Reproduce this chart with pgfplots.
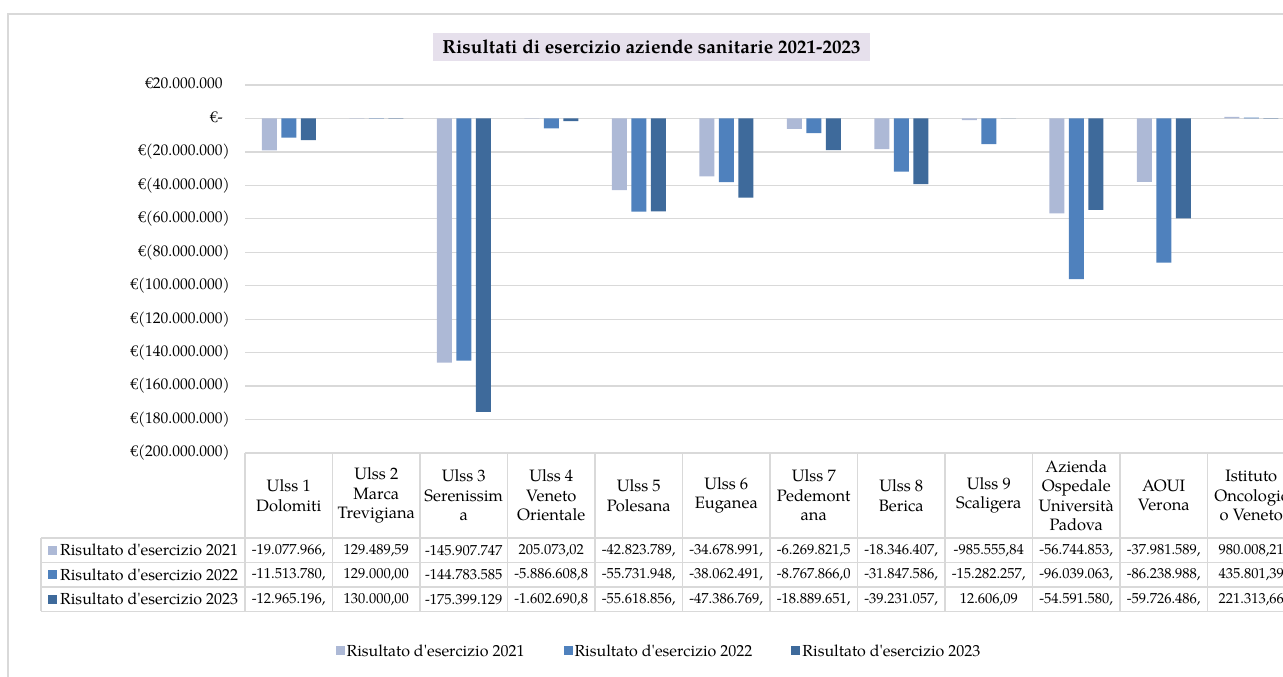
\documentclass[border=0pt]{standalone}
\usepackage{fontspec}
\setmainfont{TeX Gyre Pagella}
\usepackage{pgfplots}
\pgfplotsset{compat=1.18}

\definecolor{c21}{HTML}{ADB9D6}
\definecolor{c22}{HTML}{4F81BD}
\definecolor{c23}{HTML}{3E6A9B}
\definecolor{gridc}{HTML}{D9D9D9}
\definecolor{titlebg}{HTML}{E6E0EC}
\newcommand\fs{\fontsize{14.5}{17}\selectfont}
\newcommand\fl{\fontsize{16}{19}\selectfont}
\newcommand\ap{\textquotesingle}

\begin{document}
\begin{tikzpicture}
% chart frame (right and bottom edge fall outside the picture)
\draw[gridc, line width=1.2pt] (8pt,-20pt) -- (8pt,663pt) -- (1300pt,663pt);
\node[fill=titlebg, minimum width=437pt, minimum height=28pt, inner sep=0pt,
      font=\bfseries\fontsize{19}{21}\selectfont]
  at (651.5pt,630pt) {Risultati di esercizio aziende sanitarie 2021-2023};

\begin{axis}[
    at={(245pt,224pt)}, anchor=south west,
    width=1050pt, height=368pt, scale only axis,
    xmin=-0.5, xmax=11.5,
    ymin=-200000000, ymax=20000000,
    xtick=\empty,
    ytick={20000000,0,-20000000,-40000000,-60000000,-80000000,-100000000,-120000000,-140000000,-160000000,-180000000,-200000000},
    yticklabels={€20.000.000\phantom{)},€-\phantom{)},€(20.000.000),€(40.000.000),€(60.000.000),€(80.000.000),€(100.000.000),€(120.000.000),€(140.000.000),€(160.000.000),€(180.000.000),€(200.000.000)},
    scaled y ticks=false,
    yticklabel style={font=\fontsize{15.5}{18}\selectfont, anchor=east, inner sep=0pt, xshift=-15pt},
    major tick length=0pt,
    axis line style={draw=none},
    ymajorgrids, grid style={gridc, line width=1.2pt},
    ybar=4.5pt, bar width=15pt,
    legend style={draw=none, fill=none, at={(0.3943,-0.538)}, anchor=center,
                  legend columns=3, font=\fl,
                  /tikz/every even column/.append style={column sep=37pt}},
    legend image code/.code={\fill[#1] (0pt,-4.5pt) rectangle (9pt,4.5pt);},
]
\addplot[fill=c21, draw=none] coordinates {
  (0,-19077966) (1,129489.59) (2,-145907747) (3,205073.02) (4,-42823789) (5,-34678991)
  (6,-6269821.5) (7,-18346407) (8,-985555.84) (9,-56744853) (10,-37981589) (11,980008.21)};
\addlegendentry{Risultato d\ap esercizio 2021}
\addplot[fill=c22, draw=none] coordinates {
  (0,-11513780) (1,129000) (2,-144783585) (3,-5886608.8) (4,-55731948) (5,-38062491)
  (6,-8767866.0) (7,-31847586) (8,-15282257) (9,-96039063) (10,-86238988) (11,435801.39)};
\addlegendentry{Risultato d\ap esercizio 2022}
\addplot[fill=c23, draw=none] coordinates {
  (0,-12965196) (1,130000) (2,-175399129) (3,-1602690.8) (4,-55618856) (5,-47386769)
  (6,-18889651) (7,-39231057) (8,12606.09) (9,-54591580) (10,-59726486) (11,221313.66)};
\addlegendentry{Risultato d\ap esercizio 2023}
\end{axis}

% data table
\begin{scope}[gridc, line width=1.2pt]
  \draw (245pt,224pt) -- (1300pt,224pt);
  \foreach \yy in {139,114.5,90,65.5} \draw (41pt,\yy pt) -- (1300pt,\yy pt);
  \draw (41pt,139pt) -- (41pt,65.5pt);
  \foreach \k in {0,...,12} \draw ({245pt+87.5pt*\k},224pt) -- ({245pt+87.5pt*\k},65.5pt);
\end{scope}

\foreach \s [count=\k from 0] in {{Ulss 1\\Dolomiti},{Ulss 2\\Marca\\Trevigiana},{Ulss 3\\Serenissim\\a},
    {Ulss 4\\Veneto\\Orientale},{Ulss 5\\Polesana},{Ulss 6\\Euganea},{Ulss 7\\Pedemont\\ana},
    {Ulss 8\\Berica},{Ulss 9\\Scaligera},{Azienda\\Ospedale\\Università\\Padova},{AOUI\\Verona},
    {Istituto\\Oncologic\\o Veneto}}
  \node[align=center, inner sep=0pt, font=\fontsize{16.5}{19.5}\selectfont]
    at ({288.75pt+87.5pt*\k},181.5pt) {\s};

\foreach \s [count=\k from 0] in {{-19.077.966,},{129.489,59},{-145.907.747},{205.073,02},{-42.823.789,},
    {-34.678.991,},{-6.269.821,5},{-18.346.407,},{-985.555,84},{-56.744.853,},{-37.981.589,},{980.008,21}}
  \node[inner sep=0pt, font=\fs] at ({288.75pt+87.5pt*\k},126.75pt) {\s};
\foreach \s [count=\k from 0] in {{-11.513.780,},{129.000,00},{-144.783.585},{-5.886.608,8},{-55.731.948,},
    {-38.062.491,},{-8.767.866,0},{-31.847.586,},{-15.282.257,},{-96.039.063,},{-86.238.988,},{435.801,39}}
  \node[inner sep=0pt, font=\fs] at ({288.75pt+87.5pt*\k},102.25pt) {\s};
\foreach \s [count=\k from 0] in {{-12.965.196,},{130.000,00},{-175.399.129},{-1.602.690,8},{-55.618.856,},
    {-47.386.769,},{-18.889.651,},{-39.231.057,},{12.606,09},{-54.591.580,},{-59.726.486,},{221.313,66}}
  \node[inner sep=0pt, font=\fs] at ({288.75pt+87.5pt*\k},77.75pt) {\s};

\foreach \c/\yr/\yy in {c21/2021/126.75, c22/2022/102.25, c23/2023/77.75} {
  \fill[\c] (48pt,\yy pt-4.5pt) rectangle (57pt,\yy pt+4.5pt);
  \node[anchor=west, inner sep=0pt, font=\fl] at (60pt,\yy pt) {Risultato d\ap esercizio \yr};
}

\pgfresetboundingbox
\path[use as bounding box] (0pt,0pt) rectangle (1283pt,677pt);
\end{tikzpicture}
\end{document}
